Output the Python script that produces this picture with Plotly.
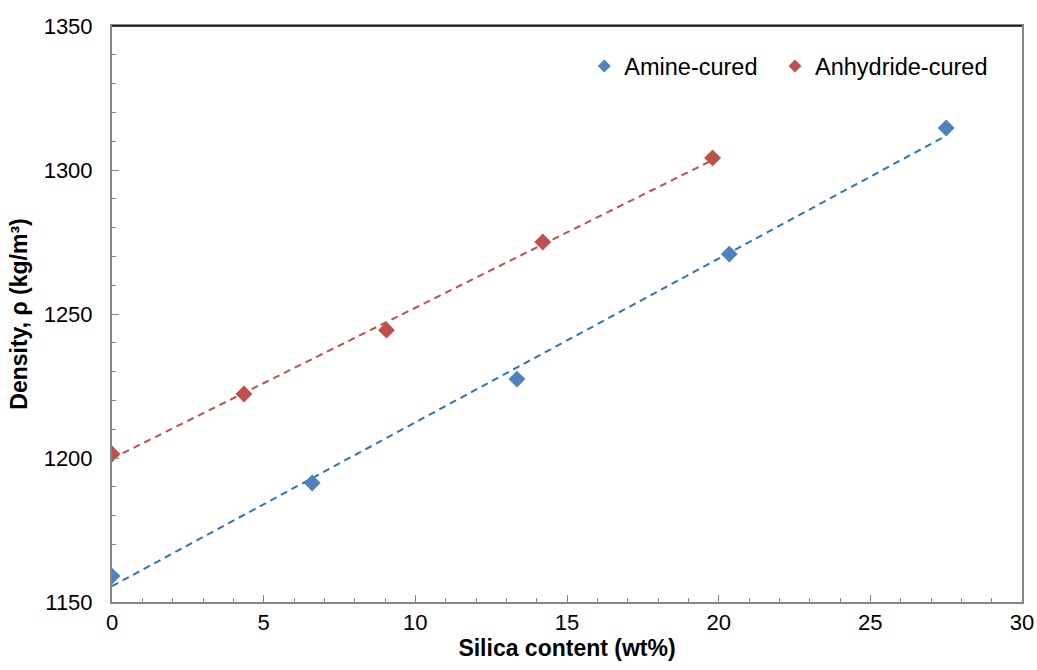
import numpy as np
import plotly.graph_objects as go

# Data
amine_x = [0.0, 6.6, 13.35, 20.35, 27.5]
amine_y = [1159.0, 1191.3, 1227.4, 1270.8, 1314.6]
anhyd_x = [0.0, 4.35, 9.05, 14.2, 19.8]
anhyd_y = [1201.4, 1222.2, 1244.4, 1275.0, 1304.2]

series_names = ["Amine-cured", "Anhydride-cured"]
marker_colors = ["#4F81BD", "#C0504D"]
trend_colors = ["#2E75B6", "#C0504D"]
legend_ids = ["legend", "legend2"]

fig = go.Figure()
for name, xs, ys, mc, tc, lg in zip(series_names, [amine_x, anhyd_x], [amine_y, anhyd_y],
                                    marker_colors, trend_colors, legend_ids):
    m, b = np.polyfit(xs, ys, 1)
    xt = [min(xs), max(xs)]
    fig.add_trace(go.Scatter(x=xt, y=[m * v + b for v in xt], mode="lines",
                             line=dict(color=tc, width=2, dash="7px,5px"),
                             showlegend=False, hoverinfo="skip"))
    fig.add_trace(go.Scatter(x=xs, y=ys, mode="markers", name=name,
                             marker=dict(symbol="diamond", size=13, color=mc),
                             showlegend=False))
    fig.add_trace(go.Scatter(x=[None], y=[None], mode="markers", name=name,
                             marker=dict(symbol="diamond", size=10, color=mc),
                             showlegend=True, legend=lg))

font_family = "Liberation Sans, Arial, sans-serif"
legend_common = dict(orientation="h", y=0.93, xanchor="left", yanchor="middle",
                     font=dict(size=23.5), itemwidth=30, bgcolor="rgba(0,0,0,0)")
fig.update_layout(
    width=1037, height=670,
    margin=dict(l=112, r=15, t=26, b=68, autoexpand=False),
    paper_bgcolor="white", plot_bgcolor="white",
    font=dict(family=font_family, size=22, color="black"),
    showlegend=True,
    legend=dict(x=0.519, **legend_common),
    legend2=dict(x=0.7286, **legend_common),
)
fig.update_xaxes(
    range=[0, 30], dtick=5, tick0=0,
    showline=True, linecolor="#868686", linewidth=2, mirror=True,
    ticks="inside", ticklen=7, tickcolor="#868686", tickwidth=1,
    minor=dict(dtick=1, ticks="inside", ticklen=4, tickcolor="#868686"),
    showgrid=False, zeroline=False,
    tickfont=dict(size=22),
    title=dict(text="<b>Silica content (wt%)</b>", font=dict(size=23), standoff=2),
)
fig.update_yaxes(
    range=[1150, 1350], dtick=50, tick0=1150,
    showline=True, linecolor="#868686", linewidth=2, mirror=True,
    ticks="inside", ticklen=7, tickcolor="#868686", tickwidth=1,
    minor=dict(dtick=10, ticks="inside", ticklen=4, tickcolor="#868686"),
    showgrid=False, zeroline=False,
    tickfont=dict(size=22), ticklabelstandoff=13,
    title=dict(text="<b>Density, ρ (kg/m³)</b>", font=dict(size=23), standoff=10),
)
fig.add_shape(type="line", xref="paper", yref="paper", x0=0, x1=1, y0=1, y1=1,
              line=dict(color="black", width=1.5))

fig.write_html("out.html")
